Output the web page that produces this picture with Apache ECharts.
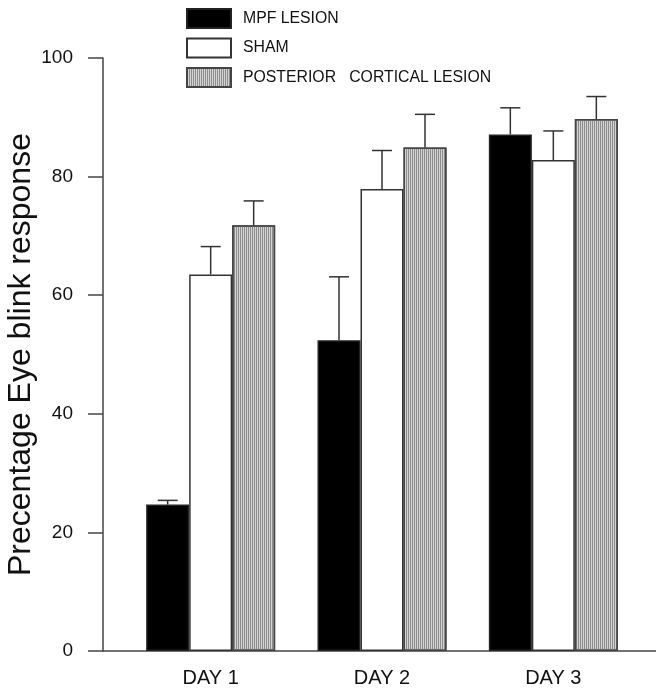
<!DOCTYPE html>
<html>
<head>
<meta charset="utf-8">
<script src="https://cdn.jsdelivr.net/npm/echarts@6/dist/echarts.min.js"></script>
<style>html,body{margin:0;padding:0;background:#fff}#c{width:656px;height:690px}</style>
</head>
<body>
<div id="c"></div>
<script>
const categories = ['DAY 1', 'DAY 2', 'DAY 3'];
const seriesNames = ['MPF LESION', 'SHAM', 'POSTERIOR   CORTICAL LESION'];
const mpfValues = [24.7, 52.4, 87.1];
const mpfErrors = [0.7, 10.7, 4.5];
const shamValues = [63.5, 77.9, 82.8];
const shamErrors = [4.7, 6.5, 4.9];
const postValues = [71.8, 84.9, 89.7];
const postErrors = [4.1, 5.6, 3.8];
const yTicks = [0, 20, 40, 60, 80, 100];

const BAR_W = 43;
const CAP_W = 20;
const FONT = '"Liberation Sans", Arial, Helvetica, sans-serif';
const LINE = '#333';

const hatch = {
  symbol: 'rect', symbolSize: 1, symbolKeepAspect: false,
  dashArrayX: [1, 1], dashArrayY: [10, 0], rotation: 0, color: '#8c8c8c'
};

const groups = [
  { name: seriesNames[0], values: mpfValues, errs: mpfErrors, style: { color: '#000', borderColor: '#222', borderWidth: 1.5 } },
  { name: seriesNames[1], values: shamValues, errs: shamErrors, style: { color: '#fff', borderColor: '#333', borderWidth: 1.5 } },
  { name: seriesNames[2], values: postValues, errs: postErrors, style: { color: '#d4d4d4', borderColor: '#444', borderWidth: 1.5, decal: hatch } }
];

const series = [];
groups.forEach(g => {
  series.push({
    name: g.name, type: 'bar', xAxisIndex: 0, yAxisIndex: 0,
    data: g.values, barWidth: BAR_W, barGap: '0%',
    itemStyle: g.style, z: 2
  });
});
groups.forEach((g, si) => {
  series.push({
    type: 'custom', xAxisIndex: 0, yAxisIndex: 0, z: 3,
    data: g.values.map((v, i) => [i, v, v + g.errs[i]]),
    renderItem: function (params, api) {
      const base = api.coord([api.value(0), api.value(1)]);
      const top = api.coord([api.value(0), api.value(2)]);
      const x = base[0] + (si - 1) * BAR_W;
      const st = { stroke: LINE, lineWidth: 1.5 };
      return {
        type: 'group', children: [
          { type: 'line', shape: { x1: x, y1: base[1], x2: x, y2: top[1] }, style: st },
          { type: 'line', shape: { x1: x - CAP_W / 2, y1: top[1], x2: x + CAP_W / 2, y2: top[1] }, style: st }
        ]
      };
    }
  });
});

const option = {
  animation: false,
  backgroundColor: '#fff',
  aria: { enabled: false },
  textStyle: { fontFamily: FONT },
  legend: {
    orient: 'vertical', left: 186, top: 8, padding: 0,
    itemWidth: 44, itemHeight: 19, itemGap: 8.5,
    icon: 'rect',
    data: seriesNames,
    textStyle: { fontFamily: FONT, fontSize: 15.8, color: '#111', padding: [0, 0, 0, 7] }
  },
  grid: [
    { left: 125, right: 17, top: 58, bottom: 39, containLabel: false, outerBoundsMode: 'none' },
    { left: 103, right: 0, top: 58, bottom: 39, containLabel: false, outerBoundsMode: 'none' }
  ],
  xAxis: [
    {
      type: 'category', gridIndex: 0, data: categories,
      axisLine: { show: false }, axisTick: { show: false },
      axisLabel: { fontFamily: FONT, fontSize: 20, color: '#111', margin: 17 }
    },
    {
      type: 'value', gridIndex: 1, min: 0, max: 1,
      axisLine: { show: true, lineStyle: { color: '#444', width: 1.5 } },
      axisTick: { show: false }, axisLabel: { show: false }, splitLine: { show: false }
    }
  ],
  yAxis: [
    {
      type: 'value', gridIndex: 0, min: yTicks[0], max: yTicks[yTicks.length - 1], interval: 20,
      offset: 22,
      name: 'Precentage Eye blink response', nameLocation: 'middle', nameGap: 66,
      nameMoveOverlap: false,
      nameTextStyle: { fontFamily: FONT, fontSize: 32, color: '#111' },
      axisLine: { show: true, lineStyle: { color: '#444', width: 1.5 } },
      axisTick: { show: true, inside: false, length: 15, lineStyle: { color: '#444', width: 1.5 } },
      axisLabel: { fontFamily: FONT, fontSize: 19, color: '#111', margin: 30 },
      splitLine: { show: false }
    },
    {
      type: 'value', gridIndex: 1, min: 0, max: 100, show: false
    }
  ],
  series: series
};

const chart = echarts.init(document.getElementById('c'), null, { renderer: 'canvas' });
chart.setOption(option);
</script>
</body>
</html>
